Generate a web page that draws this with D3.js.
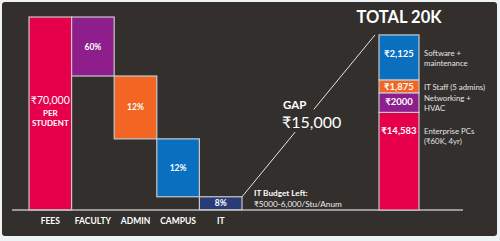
<!DOCTYPE html>
<html>
<head>
<meta charset="utf-8">
<script src="https://cdn.jsdelivr.net/npm/d3@7"></script>
<style>
  body { margin: 0; background: #eef3f3; }
  svg { display: block; font-family: Lato, "Open Sans", sans-serif; }
</style>
</head>
<body>
<div id="chart"></div>
<script>
// waterfall (left side)
var categories = ["FEES", "FACULTY", "ADMIN", "CAMPUS", "IT"];
var fees = 70000;
var drops = [21400, 22800, 21000, 4700];
var dropLabels = ["60%", "12%", "12%", "8%"];
var barColors = ["#e6004c", "#8e1e8c", "#f26522", "#0a6fbf", "#2a3c78"];

// stacked total (right side)
var stackValues = [14583, 2000, 1875, 2125];
var stackHeights = [35400, 7100, 4700, 16300]; // drawn sizes
var stackColors = ["#e6004c", "#8e1e8c", "#f26522", "#0a6fbf"];
var stackLabels = ["₹14,583", "₹2000", "₹1,875", "₹2,125"];
var stackNotes = [["Enterprise PCs", "(₹60K, 4yr)"], ["Networking +", "HVAC"], ["IT Staff (5 admins)"], ["Software +", "maintenance"]];

var svgWidth = 500, svgHeight = 241;
var baseY = 210;

var svg = d3.select("#chart").append("svg")
  .attr("width", svgWidth)
  .attr("height", svgHeight);

svg.append("rect")
  .attr("x", 2).attr("y", 2)
  .attr("width", 495).attr("height", 234)
  .attr("rx", 3)
  .attr("fill", "#322f2d");

var y = d3.scaleLinear().domain([0, fees]).range([baseY, 17]);
var x = d3.scaleBand().domain(categories).range([29, 242]).padding(0);

// build waterfall rows
var rows = [];
var level = fees;
rows.push({ cat: "FEES", top: fees, bottom: 0, label: null });
drops.forEach(function(d, i) {
  rows.push({ cat: categories[i + 1], top: level, bottom: level - d, label: dropLabels[i] });
  level -= d;
});

svg.append("g").selectAll("rect")
  .data(rows)
  .enter()
  .append("rect")
  .attr("x", d => x(d.cat))
  .attr("y", d => y(d.top))
  .attr("width", x.bandwidth())
  .attr("height", d => y(d.bottom) - y(d.top))
  .attr("fill", (d, i) => barColors[i])
  .attr("stroke", "#c9c9c9")
  .attr("stroke-width", 1.2);

svg.append("g").selectAll("text")
  .data(rows.filter(d => d.label))
  .enter()
  .append("text")
  .attr("x", d => x(d.cat) + x.bandwidth() / 2)
  .attr("y", d => (y(d.top) + y(d.bottom)) / 2 + 3)
  .attr("text-anchor", "middle")
  .attr("fill", "#fff")
  .attr("font-size", 8.5)
  .attr("font-weight", "bold")
  .text(d => d.label);

// fees label
var feesX = x("FEES") + x.bandwidth() / 2;
svg.append("text").attr("x", feesX).attr("y", 104)
  .attr("text-anchor", "middle").attr("fill", "#fff").attr("font-size", 10.5)
  .text("₹70,000");
svg.append("text").attr("x", feesX).attr("y", 116)
  .attr("text-anchor", "middle").attr("fill", "#fff").attr("font-size", 8).attr("font-weight", "bold")
  .text("PER");
svg.append("text").attr("x", feesX).attr("y", 126)
  .attr("text-anchor", "middle").attr("fill", "#fff").attr("font-size", 8).attr("font-weight", "bold")
  .text("STUDENT");

// baseline
svg.append("line")
  .attr("x1", 12).attr("x2", 463)
  .attr("y1", baseY).attr("y2", baseY)
  .attr("stroke", "#bdbdbd").attr("stroke-width", 1.5);

// category axis labels
var xAxis = d3.axisBottom(x).tickSize(0).tickPadding(8);
var axisG = svg.append("g")
  .attr("transform", `translate(0, ${baseY})`)
  .call(xAxis);
axisG.select(".domain").remove();
axisG.selectAll("text")
  .attr("fill", "#fff")
  .attr("font-size", 8.5)
  .attr("font-weight", "bold")
  .attr("font-family", "Lato, sans-serif");

// IT budget note
svg.append("text").attr("x", 254).attr("y", 196)
  .attr("fill", "#fff").attr("font-size", 8.2).attr("font-weight", "bold")
  .text("IT Budget Left:");
svg.append("text").attr("x", 254).attr("y", 207)
  .attr("fill", "#eee").attr("font-size", 8.2)
  .text("₹5000-6,000/Stu/Anum");

// stacked bar
var sy = d3.scaleLinear().domain([0, fees]).range([baseY, 17]);
var stackX = 379, stackW = 40;
var acc = 0;
var stack = stackValues.map(function(v, i) {
  var s = { v: v, y0: acc, y1: acc + stackHeights[i], i: i };
  acc += stackHeights[i];
  return s;
});

svg.append("g").selectAll("rect")
  .data(stack)
  .enter()
  .append("rect")
  .attr("x", stackX)
  .attr("y", d => sy(d.y1))
  .attr("width", stackW)
  .attr("height", d => sy(d.y0) - sy(d.y1))
  .attr("fill", d => stackColors[d.i])
  .attr("stroke", "#c9c9c9")
  .attr("stroke-width", 1.2);

var labelY = [134, 105, 90, 57];
svg.append("g").selectAll("text")
  .data(stack)
  .enter()
  .append("text")
  .attr("x", stackX + stackW / 2)
  .attr("y", d => labelY[d.i])
  .attr("text-anchor", "middle")
  .attr("fill", "#fff")
  .attr("font-size", 9.5)
  .attr("font-weight", "bold")
  .text(d => stackLabels[d.i]);

var noteY = [134, 101, 90, 56];
stack.forEach(function(d) {
  stackNotes[d.i].forEach(function(line, k) {
    svg.append("text")
      .attr("x", 424)
      .attr("y", noteY[d.i] + k * 10)
      .attr("fill", "#e4e4e4")
      .attr("font-size", 7.8)
      .text(line);
  });
});

svg.append("text").attr("x", 399).attr("y", 23)
  .attr("text-anchor", "middle").attr("fill", "#fff")
  .attr("font-size", 16.5).attr("font-weight", "bold")
  .text("TOTAL 20K");

// gap line from IT bar top to stack top
var itRow = rows[rows.length - 1];
var p0 = [x("IT") + x.bandwidth(), y(itRow.top)];
var p1 = [375, sy(acc)];
function along(t) { return [p0[0] + (p1[0] - p0[0]) * t, p0[1] + (p1[1] - p0[1]) * t]; }
var a = along(0.4), b = along(0.54);
svg.append("line").attr("x1", p0[0]).attr("y1", p0[1]).attr("x2", a[0]).attr("y2", a[1])
  .attr("stroke", "#e6e6e6").attr("stroke-width", 1);
svg.append("line").attr("x1", b[0]).attr("y1", b[1]).attr("x2", p1[0]).attr("y2", p1[1])
  .attr("stroke", "#e6e6e6").attr("stroke-width", 1);

svg.append("text").attr("x", 283).attr("y", 109)
  .attr("fill", "#fff").attr("font-size", 11.5).attr("font-weight", "bold")
  .text("GAP");
svg.append("text").attr("x", 282).attr("y", 128)
  .attr("fill", "#fff").attr("font-size", 16)
  .text("₹15,000");
</script>
</body>
</html>
